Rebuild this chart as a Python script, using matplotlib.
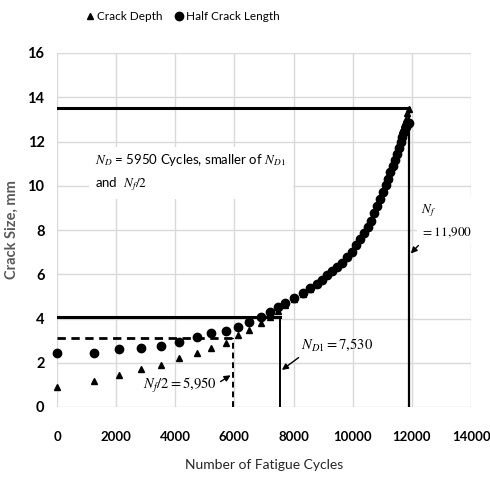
import matplotlib
matplotlib.use("Agg")
import matplotlib.pyplot as plt

# ---------------- data ----------------
cycles = [0, 1260, 2110, 2840, 3500, 4140, 4720, 5210, 5720, 6110, 6500, 6900,
          7200, 7470, 7720, 8030, 8320, 8560, 8780, 8960, 9140, 9310, 9480,
          9650, 9810, 9970, 10110, 10250, 10390, 10510, 10620, 10730, 10830,
          10930, 11020, 11110, 11190, 11270, 11350, 11420, 11490, 11560, 11620,
          11680, 11740, 11800, 11850, 11890]
half_length = [2.43, 2.45, 2.60, 2.65, 2.76, 2.95, 3.15, 3.33, 3.45, 3.63, 3.83,
               4.08, 4.31, 4.50, 4.68, 4.92, 5.13, 5.36, 5.58, 5.76, 5.95, 6.14,
               6.34, 6.53, 6.78, 7.02, 7.30, 7.58, 7.86, 8.12, 8.42, 8.75, 9.08,
               9.40, 9.70, 10.02, 10.30, 10.60, 10.90, 11.18, 11.45, 11.72, 11.98,
               12.22, 12.45, 12.65, 12.78, 12.85]
crack_depth = [0.92, 1.19, 1.45, 1.70, 1.90, 2.20, 2.45, 2.68, 2.91, 3.25, 3.48,
               3.78, 4.08, 4.36, 4.60, 4.88, 5.11, 5.35, 5.58, 5.76, 5.95, 6.14,
               6.34, 6.53, 6.78, 7.02, 7.30, 7.58, 7.86, 8.12, 8.42, 8.75, 9.08,
               9.42, 9.74, 10.07, 10.37, 10.69, 11.01, 11.31, 11.61, 11.92, 12.22,
               12.50, 12.78, 13.03, 13.27, 13.48]

N_f, a_f = 11900, 13.5          # failure
N_D1, a_D1 = 7530, 4.05         # detection criterion 1
N_D, a_D = 5950, 3.1            # N_f / 2

x_ticks = [0, 2000, 4000, 6000, 8000, 10000, 12000, 14000]
y_ticks = [0, 2, 4, 6, 8, 10, 12, 14, 16]

# ---------------- style ----------------
plt.rcParams["font.family"] = ["Lato", "DejaVu Sans"]
plt.rcParams["mathtext.fontset"] = "stix"

fig = plt.figure(figsize=(4.9, 4.8), dpi=100)
ax = fig.add_axes([57/490, 1-407/480, (471-57)/490, (407-53)/480])

ax.set_xlim(0, 14000)
ax.set_ylim(0, 16)
ax.set_xticks(x_ticks)
ax.set_yticks(y_ticks)
ax.set_xticklabels([str(t) for t in x_ticks], fontsize=9.5, fontweight="bold")
ax.set_yticklabels([str(t) for t in y_ticks], fontsize=10.5, fontweight="bold")
ax.tick_params(axis="x", length=0, pad=17)
ax.tick_params(axis="y", length=0, pad=9)
ax.grid(True, color="#d9d9d9", lw=1)
ax.set_axisbelow(True)
for s in ax.spines.values():
    s.set_visible(False)

# reference lines
ax.plot([0, N_f], [a_f, a_f], color="black", lw=2.2, zorder=3)
ax.plot([N_f, N_f], [0, a_f], color="black", lw=1.6, zorder=3)
ax.plot([0, N_D1], [a_D1, a_D1], color="black", lw=2.2, zorder=3)
ax.plot([N_D1, N_D1], [0, a_D1], color="black", lw=1.4, zorder=3)
ax.plot([0, N_D], [a_D, a_D], color="black", lw=2.0, ls=(0, (3, 2)), zorder=3)
ax.plot([N_D, N_D], [0, a_D], color="black", lw=1.4, ls=(0, (3, 2)), zorder=3)

# data
ax.plot(cycles, crack_depth, ls="none", marker="^", ms=4.5, color="black",
        label="Crack Depth", zorder=4, clip_on=False)
ax.plot(cycles, half_length, ls="none", marker="o", ms=6, color="black",
        label="Half Crack Length", zorder=4, clip_on=False)

# annotation box
ax.text(1300, 10.6, "$N_D$ = 5950 Cycles, smaller of $N_{D1}$\nand  $N_f/2$",
        fontsize=9.5, ha="left", va="center", linespacing=1.6, zorder=5,
        bbox=dict(boxstyle="square,pad=0.5", fc="white", ec="none"))

# arrows / labels
ax.annotate("$N_f$\n$= 11{,}900$", xy=(N_f, 6.85), xytext=(12300, 8.4),
            fontsize=9.5, ha="left", va="center", linespacing=1.5,
            arrowprops=dict(arrowstyle="-|>", color="black", lw=1.0,
                            mutation_scale=9, relpos=(0.1, 0.05)), zorder=5,
            bbox=dict(boxstyle="square,pad=0.3", fc="white", ec="none"))
ax.annotate("$N_{D1} = 7{,}530$", xy=(N_D1, 1.6), xytext=(8250, 2.8),
            fontsize=10.5, ha="left", va="center",
            arrowprops=dict(arrowstyle="-|>", color="black", lw=1.0,
                            mutation_scale=9, shrinkA=2,
                            relpos=(0.05, 0.0)), zorder=5)
ax.annotate("$N_f/2 = 5{,}950$", xy=(N_D, 1.5), xytext=(2900, 0.95),
            fontsize=10.5, ha="left", va="center",
            arrowprops=dict(arrowstyle="-|>", color="black", lw=1.0,
                            mutation_scale=9, shrinkA=1,
                            relpos=(1.0, 0.6)), zorder=5)

ax.set_xlabel("Number of Fatigue Cycles", fontsize=10, color="#262626",
              labelpad=12)
ax.set_ylabel("Crack Size, mm", fontsize=10.5, fontweight="bold",
              color="#595959", labelpad=6)

leg = fig.legend(loc="center", bbox_to_anchor=(182/490, 1-17/480), ncol=2,
                 frameon=False, fontsize=8.5, handletextpad=0.1,
                 columnspacing=0.9, handlelength=1.0)

fig.savefig("out.png", dpi=100)
